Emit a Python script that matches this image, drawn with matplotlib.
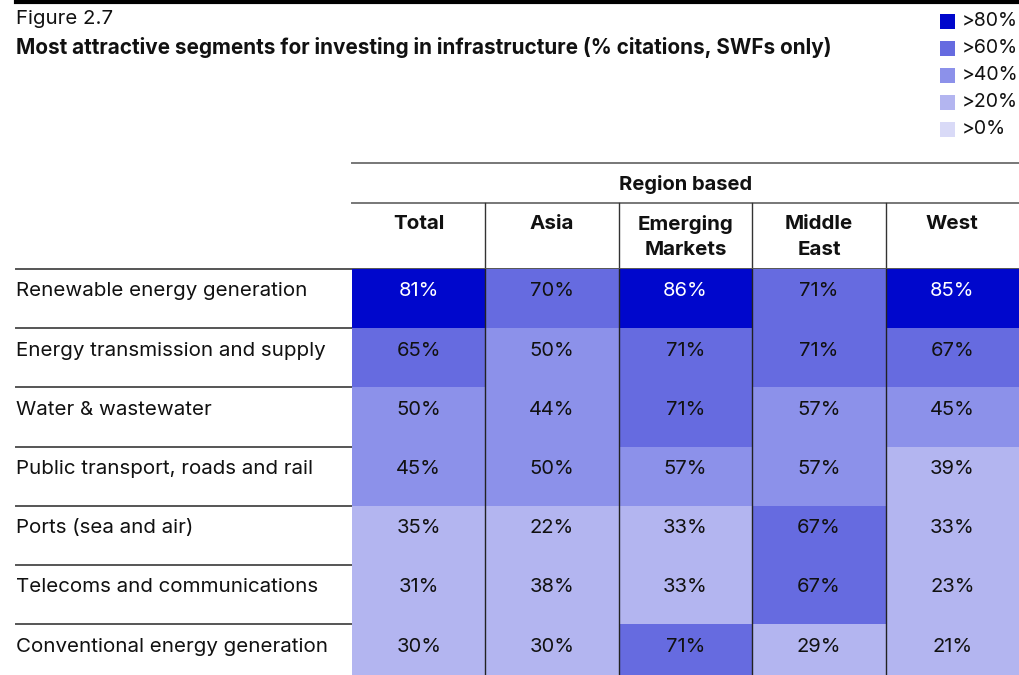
import numpy as np
import matplotlib

matplotlib.use("Agg")
import matplotlib.pyplot as plt
from matplotlib.colors import ListedColormap, BoundaryNorm
from matplotlib.patches import Rectangle

plt.rcParams["font.family"] = ["Inter", "DejaVu Sans"]

segments = [
    "Renewable energy generation",
    "Energy transmission and supply",
    "Water & wastewater",
    "Public transport, roads and rail",
    "Ports (sea and air)",
    "Telecoms and communications",
    "Conventional energy generation",
]
columns = ["Total", "Asia", "Emerging\nMarkets", "Middle\nEast", "West"]
total = [81, 65, 50, 45, 35, 31, 30]
asia = [70, 50, 44, 50, 22, 38, 30]
emerging = [86, 71, 71, 57, 33, 33, 71]
middle_east = [71, 71, 57, 57, 67, 67, 29]
west = [85, 67, 45, 39, 33, 23, 21]

bounds = [0, 20, 40, 60, 80, 100]
legend_labels = [">80%", ">60%", ">40%", ">20%", ">0%"]
colors = ["#d9daf7", "#b3b5f0", "#8c91ea", "#666be0", "#0007cc"]

W, H = 1019, 675
fig = plt.figure(figsize=(W / 100, H / 100), dpi=100)

# overlay in pixel coords for titles, header, legend, rules
ov = fig.add_axes([0, 0, 1, 1])
ov.set_xlim(0, W)
ov.set_ylim(H, 0)
ov.axis("off")

# table grid geometry (pixels)
x0, x1 = 352, 1019
y_top, row_h = 269, 59.2
n_rows, n_cols = len(segments), len(columns)
y_bot = y_top + n_rows * row_h
col_w = (x1 - x0) / n_cols

ax = fig.add_axes([x0 / W, 1 - y_bot / H, (x1 - x0) / W, (y_bot - y_top) / H])
vals = np.array([total, asia, emerging, middle_east, west]).T
cmap = ListedColormap(colors)
norm = BoundaryNorm(bounds, cmap.N)
ax.pcolormesh(np.arange(n_cols + 1), np.arange(n_rows + 1), vals,
              cmap=cmap, norm=norm)
ax.set_xlim(0, n_cols)
ax.set_ylim(n_rows, 0)
ax.axis("off")
for i in range(n_rows):
    for j in range(n_cols):
        v = vals[i, j]
        ax.text(j + 0.5, i + 0.38, f"{v}%", ha="center", va="center",
                fontsize=14.5, color="white" if v > 80 else "#111111")
for j in range(1, n_cols):
    ax.axvline(j, color="#222222", lw=1.0)

# row labels and row rules
fs = 14.8
for i, s in enumerate(segments):
    yt = y_top + i * row_h
    ov.text(16, yt + 0.38 * row_h, s, ha="left", va="center", fontsize=fs,
            color="#111111")
    ov.plot([16, W], [yt, yt], color="#555555", lw=1.4, zorder=5)

# header
ov.plot([x0, W], [163, 163], color="#777777", lw=1.4)
ov.plot([x0, W], [203, 203], color="#777777", lw=1.4)
ov.text((x0 + x1) / 2, 185, "Region based", ha="center", va="center",
        fontsize=14.5, fontweight="bold", color="#111111")
for j, c in enumerate(columns):
    cx = x0 + (j + 0.5) * col_w
    for k, line in enumerate(c.split("\n")):
        ov.text(cx, 224 + 26 * k, line, ha="center", va="center",
                fontsize=fs, fontweight="bold", color="#111111")
    if j > 0:
        xb = x0 + j * col_w
        ov.plot([xb, xb], [203, y_top], color="#333333", lw=1.0)

# titles
ov.plot([16, W], [2, 2], color="black", lw=3)
ov.text(16, 19, "Figure 2.7", ha="left", va="center", fontsize=14.7,
        color="#111111")
ov.text(16, 48, "Most attractive segments for investing in infrastructure "
        "(% citations, SWFs only)", ha="left", va="center", fontsize=14.9,
        fontweight="bold", color="#111111")

# legend
for k, (lab, col) in enumerate(zip(legend_labels, colors[::-1])):
    yc = 21 + k * 27
    ov.add_patch(Rectangle((940, yc - 7.5), 15, 15, facecolor=col,
                           edgecolor="none"))
    ov.text(962, yc, lab, ha="left", va="center", fontsize=14,
            color="#111111")

fig.savefig("out.png", dpi=100)
